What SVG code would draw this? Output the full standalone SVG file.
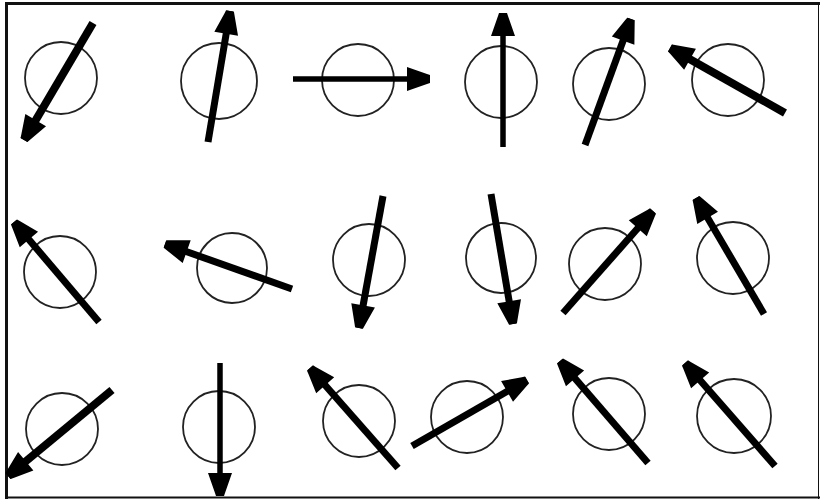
<svg xmlns="http://www.w3.org/2000/svg" width="820" height="500" viewBox="0 0 820 500">
<style>
.ring{fill:none;stroke:#222;stroke-width:1.8}
.ar{stroke:#000;stroke-width:7;stroke-linecap:butt;marker-end:url(#head)}
.thin{stroke-width:5.5}
.thick{stroke-width:8}
.frame{stroke:#111;fill:none}
</style>
<defs>
<marker id="head" markerUnits="userSpaceOnUse" orient="auto" refX="0" refY="0" overflow="visible">
<polygon points="-23,-12 -3,-5 0,-4 0,4 -3,5 -23,12" fill="#000"/>
</marker>
</defs>
<rect width="820" height="500" fill="#fff"/>
<g id="frame">
<line class="frame" x1="6.5" y1="2" x2="6.5" y2="499" stroke-width="3"/>
<line class="frame" x1="5" y1="3.5" x2="820" y2="3.5" stroke-width="3" stroke="#333"/>
<line class="frame" x1="5" y1="497.5" x2="820" y2="497.5" stroke-width="2" stroke="#444"/>
<line class="frame" x1="818.5" y1="2" x2="818.5" y2="499" stroke-width="1" stroke="#999"/>
</g>
<g id="n1"><circle class="ring" cx="61" cy="78" r="36"/><line class="ar thick" x1="93" y1="23" x2="24" y2="140"/></g>
<g id="n2"><circle class="ring" cx="219" cy="81" r="38"/><line class="ar" x1="208" y1="142" x2="230" y2="11"/></g>
<g id="n3"><circle class="ring" cx="358" cy="80" r="36"/><line class="ar thin" x1="293" y1="79" x2="430" y2="79"/></g>
<g id="n4"><circle class="ring" cx="501" cy="82" r="36"/><line class="ar thin" x1="503" y1="147" x2="503" y2="13"/></g>
<g id="n5"><circle class="ring" cx="609" cy="84" r="36"/><line class="ar" x1="585" y1="145" x2="631" y2="19"/></g>
<g id="n6"><circle class="ring" cx="728" cy="80" r="36"/><line class="ar thick" x1="785" y1="113" x2="670" y2="48"/></g>
<g id="n7"><circle class="ring" cx="60" cy="272" r="36"/><line class="ar" x1="99" y1="322" x2="14" y2="222"/></g>
<g id="n8"><circle class="ring" cx="232" cy="268" r="35"/><line class="ar" x1="292" y1="289" x2="165" y2="244"/></g>
<g id="n9"><circle class="ring" cx="369" cy="260" r="36"/><line class="ar" x1="383" y1="196" x2="359" y2="328"/></g>
<g id="n10"><circle class="ring" cx="501" cy="258" r="35"/><line class="ar" x1="491" y1="194" x2="513" y2="324"/></g>
<g id="n11"><circle class="ring" cx="605" cy="264" r="36"/><line class="ar" x1="563" y1="313" x2="653" y2="211"/></g>
<g id="n12"><circle class="ring" cx="733" cy="258" r="36"/><line class="ar" x1="764" y1="314" x2="696" y2="198"/></g>
<g id="n13"><circle class="ring" cx="62" cy="429" r="36"/><line class="ar thick" x1="112" y1="390" x2="8" y2="476"/></g>
<g id="n14"><circle class="ring" cx="219" cy="427" r="36"/><line class="ar thin" x1="220" y1="363" x2="220" y2="496"/></g>
<g id="n15"><circle class="ring" cx="359" cy="421" r="36"/><line class="ar" x1="398" y1="468" x2="310" y2="368"/></g>
<g id="n16"><circle class="ring" cx="467" cy="417" r="36"/><line class="ar" x1="412" y1="446" x2="527" y2="380"/></g>
<g id="n17"><circle class="ring" cx="609" cy="414" r="36"/><line class="ar" x1="648" y1="463" x2="560" y2="361"/></g>
<g id="n18"><circle class="ring" cx="734" cy="416" r="37"/><line class="ar" x1="775" y1="466" x2="685" y2="363"/></g>
</svg>
